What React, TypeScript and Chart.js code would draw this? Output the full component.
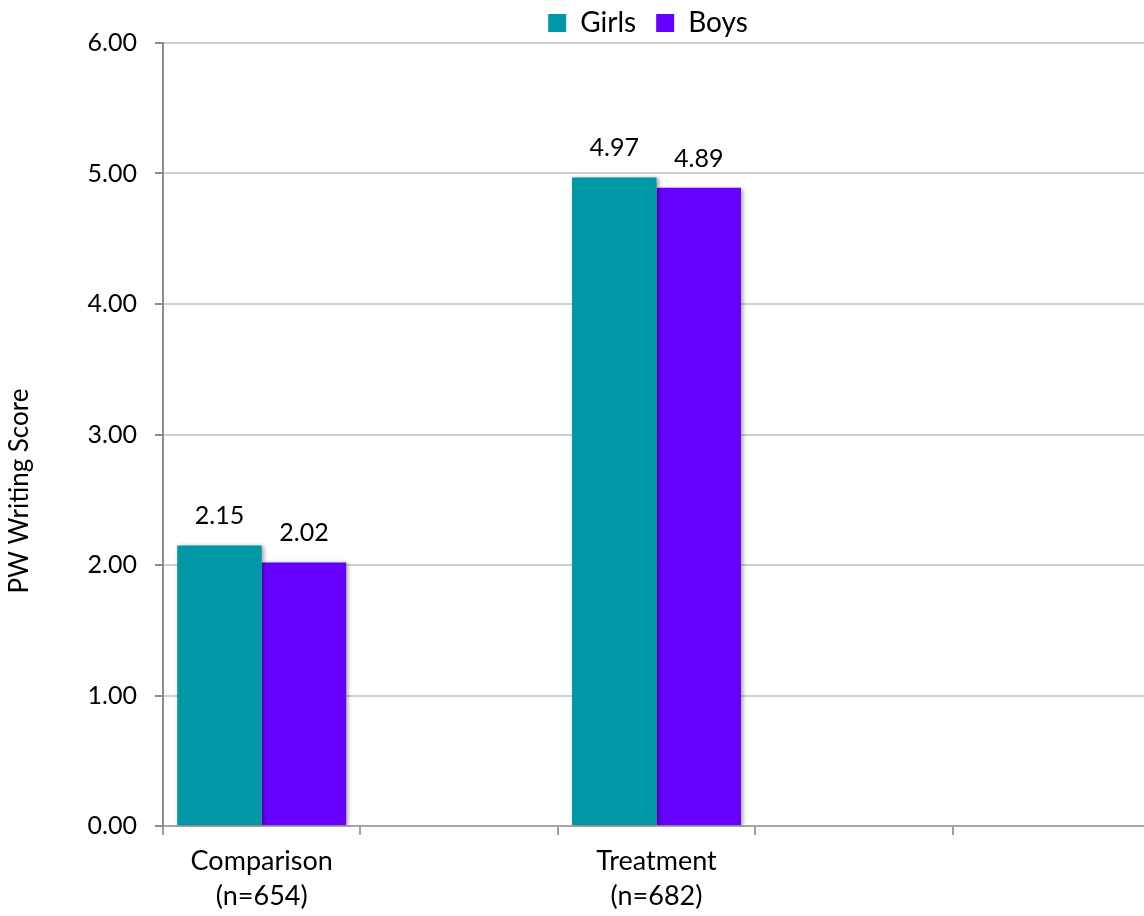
import React, { useEffect, useRef } from "react";
import { Chart, registerables } from "chart.js";

Chart.register(...registerables);

const categories: (string | string[])[] = [
  ["Comparison", "(n=654)"],
  "",
  ["Treatment", "(n=682)"],
  "",
  "",
];
const girls: (number | null)[] = [2.15, null, 4.97, null, null];
const boys: (number | null)[] = [2.02, null, 4.89, null, null];
const seriesNames = ["Girls", "Boys"];
const yTicks = [0, 1, 2, 3, 4, 5, 6];
const yTitle = "PW Writing Score";

const FONT = "Lato, 'Open Sans', sans-serif";

const barShadow = {
  id: "barShadow",
  beforeDatasetsDraw(chart: any) {
    const ctx = chart.ctx;
    ctx.save();
    ctx.shadowColor = "rgba(0,0,0,0.35)";
    ctx.shadowBlur = 4;
    ctx.shadowOffsetX = 2;
    ctx.shadowOffsetY = 1;
  },
  afterDatasetsDraw(chart: any) {
    chart.ctx.restore();
  },
};

const valueLabels = {
  id: "valueLabels",
  afterDatasetsDraw(chart: any) {
    const ctx = chart.ctx;
    ctx.save();
    ctx.font = `25px ${FONT}`;
    ctx.fillStyle = "#000";
    ctx.textAlign = "center";
    ctx.textBaseline = "alphabetic";
    chart.data.datasets.forEach((ds: any, i: number) => {
      const meta = chart.getDatasetMeta(i);
      meta.data.forEach((el: any, j: number) => {
        const v = ds.data[j];
        if (v == null) return;
        ctx.fillText(v.toFixed(2), el.x, el.y - 21);
      });
    });
    ctx.restore();
  },
};

const legendFix = {
  id: "legendFix",
  beforeLayout(chart: any) {
    const lg = chart.legend;
    if (!lg || lg._fixed) return;
    const orig = lg.fit.bind(lg);
    lg.fit = function () {
      orig();
      this.height = 43;
    };
    lg._fixed = true;
  },
  afterLayout(chart: any) {
    const lg = chart.legend;
    if (!lg) return;
    const dx = 73;
    lg.left += dx;
    lg.right += dx;
    lg.top -= 11;
  },
};

export default function App() {
  const ref = useRef<HTMLCanvasElement | null>(null);
  useEffect(() => {
    if (!ref.current) return;
    const chart = new Chart(ref.current, {
      type: "bar",
      data: {
        labels: categories,
        datasets: [
          {
            label: seriesNames[0],
            data: girls,
            backgroundColor: "#0097A7",
            borderWidth: 0,
          },
          {
            label: seriesNames[1],
            data: boys,
            backgroundColor: "#6600FF",
            borderWidth: 0,
          },
        ],
      },
      plugins: [barShadow, valueLabels, legendFix],
      options: {
        responsive: false,
        animation: false,
        events: [],
        layout: { padding: { left: 0, right: 10, top: 0, bottom: 0 } },
        datasets: {
          bar: { categoryPercentage: 0.856, barPercentage: 1 },
        },
        plugins: {
          tooltip: { enabled: false },
          legend: {
            position: "top",
            align: "center",
            labels: {
              boxWidth: 18,
              boxHeight: 18,
              padding: 20,
              color: "#000",
              font: { family: FONT, size: 28 },
            },
          },
        },
        scales: {
          x: {
            offset: true,
            grid: {
              display: true,
              drawOnChartArea: false,
              drawTicks: true,
              tickLength: 9,
              tickColor: "#a0a0a0",
              lineWidth: 2,
              offset: true,
            },
            border: { display: true, color: "#a6a6a6", width: 2 },
            ticks: {
              color: "#000",
              font: { family: FONT, size: 27, lineHeight: 1.3 },
              padding: 9,
              maxRotation: 0,
              autoSkip: false,
            },
            afterFit(scale: any) {
              scale.height = 90;
            },
          },
          y: {
            min: 0,
            max: 6,
            afterBuildTicks(scale: any) {
              scale.ticks = yTicks.map((v) => ({ value: v }));
            },
            grid: {
              color: "#d0d0d0",
              lineWidth: 2,
              tickLength: 8,
              tickColor: "#8c8c8c",
            },
            border: { display: true, color: "#8c8c8c", width: 2 },
            ticks: {
              color: "#000",
              font: { family: FONT, size: 25 },
              padding: 18,
              callback: (v: any) => Number(v).toFixed(2),
            },
            title: {
              display: true,
              text: yTitle + " ".repeat(17),
              color: "#000",
              font: { family: FONT, size: 26 },
              padding: { top: 4, bottom: 0 },
            },
            afterFit(scale: any) {
              scale.width = 163;
            },
          },
        },
      },
    });
    return () => chart.destroy();
  }, []);
  return (
    <div
      style={{
        position: "fixed",
        left: 0,
        top: 0,
        width: 1144,
        height: 916,
        overflow: "hidden",
        background: "#fff",
      }}
    >
      <canvas ref={ref} width={1160} height={916} style={{ display: "block" }} />
    </div>
  );
}
